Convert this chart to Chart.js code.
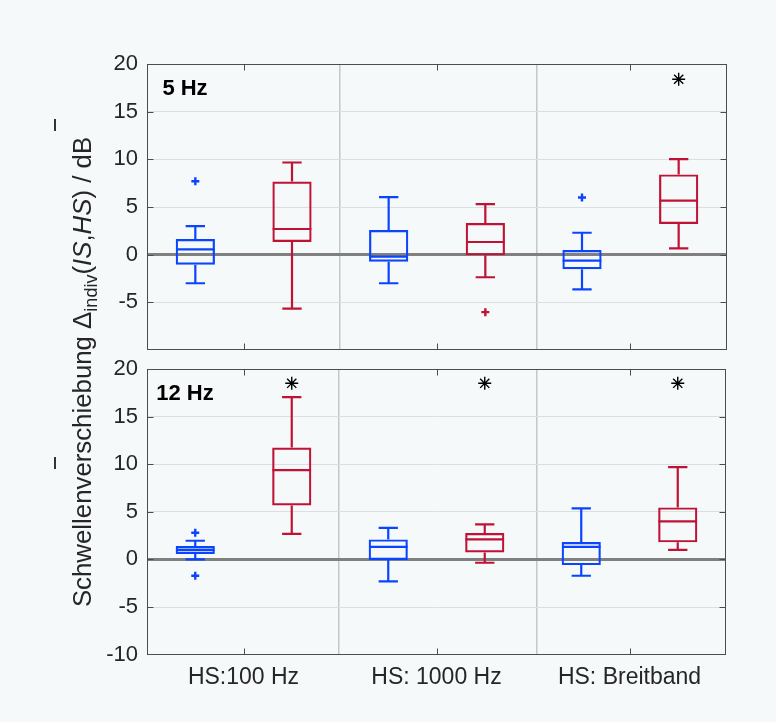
<!DOCTYPE html>
<html>
<head>
<meta charset="utf-8">
<script src="https://cdn.jsdelivr.net/npm/chart.js@4.4.1/dist/chart.umd.min.js"></script>
<style>
  html, body { margin: 0; padding: 0; background: #f5f9f9; }
  body { width: 776px; height: 722px; position: relative; overflow: hidden; font-family: "Liberation Sans", Arial, sans-serif; }
  canvas { position: absolute; left: 0; }
  #c1 { top: 0; }
  #c2 { top: 354px; }
  #ytitle { position: absolute; left: 83px; top: 372px; transform: translate(-50%, -50%) rotate(-90deg);
            white-space: nowrap; font-size: 25.8px; color: #262626; line-height: 1; }
  #ytitle sub { font-size: 0.7em; vertical-align: -0.3em; line-height: 0; }
  .bar { position: absolute; width: 1.6px; background: #333; }
</style>
</head>
<body>
<canvas id="c1" width="776" height="354"></canvas>
<canvas id="c2" width="776" height="368"></canvas>
<div id="ytitle">Schwellenverschiebung Δ<sub>indiv</sub>(<i>IS</i>,<i>HS</i>) / dB</div>
<div class="bar" style="left:54px; top:119px; height:12px;"></div>
<div class="bar" style="left:54px; top:457px; height:12px;"></div>
<script>
// ---------------- data ----------------
const categories = ['HS:100 Hz', 'HS: 1000 Hz', 'HS: Breitband'];
const yTickValues = [-10, -5, 0, 5, 10, 15, 20];
const separatorValues = [1.495, 2.517];   // vertical divider lines between groups
const panelLabels = ['5 Hz', '12 Hz'];

// five-number summaries per category: [lower whisker, Q1, median, Q3, upper whisker]
const blue5Hz  = [[-3.0, -1.05, 0.56, 1.64, 3.0], [-3.0, -0.73, -0.2, 2.59, 6.04], [-3.65, -1.53, -0.63, 0.49, 2.3]];
const red5Hz   = [[-5.65, 1.33, 2.69, 7.68, 9.67], [-2.37, -0.07, 1.33, 3.32, 5.31], [0.67, 3.21, 5.66, 8.42, 10.02]];
const blue5HzOutliers = [[7.7], [], [6.0]];
const red5HzOutliers  = [[], [-6.03], []];
const sig5Hz = [null, null, 18.4];

const blue12Hz = [[0.0, 0.56, 1.0, 1.4, 1.96], [-2.3, -0.07, 1.32, 2.1, 3.32], [-1.72, -0.6, 1.32, 1.82, 5.36]];
const red12Hz  = [[2.69, 5.67, 9.38, 11.76, 17.05], [-0.35, 0.73, 2.1, 2.76, 3.68], [1.0, 1.79, 3.99, 5.46, 9.7]];
const blue12HzOutliers = [[2.8, -1.72], [], []];
const red12HzOutliers  = [[], [], []];
const sig12Hz = [18.5, 18.5, 18.5];

// ---------------- styling / layout constants ----------------
const BLUE = '#0b44ff';
const RED = '#bf1236';
const GROUP_OFFSET = 0.25, BOX_HALF = 0.1, CAP_HALF = 0.05;
const FONT = '"Liberation Sans", Arial, sans-serif';
const TEXT = '#262626';
const LW = 2.2;

function whiskerPoints(series, offset) {
  const pts = [];
  const gap = (x) => pts.push({ x: x, y: null });
  series.forEach((s, i) => {
    const p = i + 1 + offset;
    const [lo, q1, med, q3, hi] = s;
    pts.push({ x: p, y: lo }, { x: p, y: q1 }); gap(p);
    pts.push({ x: p, y: q3 }, { x: p, y: hi }); gap(p);
    pts.push({ x: p - CAP_HALF, y: lo }, { x: p + CAP_HALF, y: lo }); gap(p);
    pts.push({ x: p - CAP_HALF, y: hi }, { x: p + CAP_HALF, y: hi }); gap(p);
    pts.push({ x: p - BOX_HALF, y: med }, { x: p + BOX_HALF, y: med }); gap(p);
  });
  return pts;
}
function outlierPoints(out, offset) {
  const pts = [];
  out.forEach((vals, i) => vals.forEach(v => pts.push({ x: i + 1 + offset, y: v })));
  return pts;
}
function sigPoints(sig, offset) {
  const pts = [];
  sig.forEach((v, i) => { if (v !== null) pts.push({ x: i + 1 + offset, y: v }); });
  return pts;
}

const framePlugin = {
  id: 'frame',
  afterDatasetsDraw(chart) {
    const { ctx, chartArea: a, scales: { x, y } } = chart;
    ctx.save();
    ctx.strokeStyle = '#4d4d4d';
    ctx.lineWidth = 1;
    const L = Math.round(a.left) + 0.5, R = Math.round(a.right) - 0.5;
    const T = Math.round(a.top) + 0.5, B = Math.round(a.bottom) - 0.5;
    ctx.strokeRect(L, T, R - L, B - T);
    ctx.beginPath();
    yTickValues.forEach(v => {
      if (v <= y.min || v >= y.max) return;
      const py = Math.round(y.getPixelForValue(v)) + 0.5;
      ctx.moveTo(L, py); ctx.lineTo(L + 6, py);
      ctx.moveTo(R, py); ctx.lineTo(R - 6, py);
    });
    categories.forEach((c, i) => {
      const px = Math.round(x.getPixelForValue(i + 1)) + 0.5;
      ctx.moveTo(px, B); ctx.lineTo(px, B - 6);
      ctx.moveTo(px, T); ctx.lineTo(px, T + 6);
    });
    ctx.stroke();
    const lbl = chart.options.plugins.frame && chart.options.plugins.frame.label;
    if (lbl) {
      ctx.fillStyle = '#000';
      ctx.font = 'bold 22px ' + FONT;
      ctx.textAlign = 'center';
      ctx.textBaseline = 'alphabetic';
      ctx.fillText(lbl, a.left + 38, a.top + 30.5);
    }
    ctx.restore();
  }
};

function makeChart(id, blue, red, blueOut, redOut, sig, label, isBottom, pad, xAxisHeight) {
  const bars = [];
  const barColors = [];
  categories.forEach((c, i) => {
    bars.push({ x: i + 1 - GROUP_OFFSET, y: [blue[i][1], blue[i][3]] });
    barColors.push(BLUE);
    bars.push({ x: i + 1 + GROUP_OFFSET, y: [red[i][1], red[i][3]] });
    barColors.push(RED);
  });
  const xTicks = [1, 2, 3].concat(separatorValues).sort((a, b) => a - b);
  return new Chart(document.getElementById(id), {
    type: 'bar',
    data: {
      datasets: [
        { type: 'bar', label: 'boxes', data: bars, borderColor: barColors, backgroundColor: 'rgba(0,0,0,0)',
          borderWidth: LW, borderSkipped: false, categoryPercentage: 1, barPercentage: 0.42, order: 5 },
        { type: 'line', label: 'blue whiskers', data: whiskerPoints(blue, -GROUP_OFFSET), borderColor: BLUE,
          borderWidth: LW, pointRadius: 0, spanGaps: false, tension: 0, fill: false, order: 4 },
        { type: 'line', label: 'red whiskers', data: whiskerPoints(red, GROUP_OFFSET), borderColor: RED,
          borderWidth: LW, pointRadius: 0, spanGaps: false, tension: 0, fill: false, order: 3 },
        { type: 'scatter', label: 'blue outliers', data: outlierPoints(blueOut, -GROUP_OFFSET), pointStyle: 'cross',
          pointRadius: 4, borderWidth: 2.4, borderColor: BLUE, backgroundColor: BLUE, order: 2 },
        { type: 'scatter', label: 'red outliers', data: outlierPoints(redOut, GROUP_OFFSET), pointStyle: 'cross',
          pointRadius: 4, borderWidth: 2.4, borderColor: RED, backgroundColor: RED, order: 2 },
        { type: 'scatter', label: 'significant', data: sigPoints(sig, GROUP_OFFSET), pointStyle: 'star',
          pointRadius: 6.5, borderWidth: 1.4, borderColor: '#000', backgroundColor: '#000', order: 1 }
      ]
    },
    options: {
      responsive: false,
      animation: false,
      events: [],
      layout: { padding: pad, autoPadding: false },
      plugins: { legend: { display: false }, tooltip: { enabled: false }, frame: { label: label } },
      scales: {
        x: {
          type: 'linear', min: 0.5, max: 3.5, offset: false,
          afterBuildTicks: (s) => { s.ticks = xTicks.map(v => ({ value: v })); },
          afterFit: (s) => { s.height = xAxisHeight; s.paddingLeft = 0; s.paddingRight = 0; },
          grid: { offset: false, drawTicks: false, lineWidth: 1.5,
                  color: (c) => (c.tick && !Number.isInteger(c.tick.value)) ? '#c5c7c8' : 'rgba(0,0,0,0)' },
          border: { display: false },
          ticks: {
            display: isBottom, padding: 9, maxRotation: 0, autoSkip: false,
            font: { family: FONT, size: 23 }, color: TEXT,
            callback: (v) => (Number.isInteger(v) ? categories[v - 1] : '')
          }
        },
        y: {
          type: 'linear', min: -10, max: 20,
          afterBuildTicks: (s) => { s.ticks = yTickValues.map(v => ({ value: v })); },
          afterFit: (s) => { s.width = 147; s.paddingTop = 0; s.paddingBottom = 0; },
          grid: { drawTicks: false,
                  color: (c) => c.tick.value === 0 ? '#808080' : ((c.tick.value === 20 || c.tick.value === -10) ? 'rgba(0,0,0,0)' : '#dcdedf'),
                  lineWidth: (c) => c.tick.value === 0 ? 3 : 1 },
          border: { display: false },
          ticks: {
            padding: 9, font: { family: FONT, size: 22 }, color: TEXT,
            callback: (v) => (!isBottom && v === -10) ? null : String(v)
          }
        }
      }
    },
    plugins: [framePlugin]
  });
}

makeChart('c1', blue5Hz, red5Hz, blue5HzOutliers, red5HzOutliers, sig5Hz, panelLabels[0], false,
          { top: 64, right: 49, left: 0, bottom: 0 }, 4);
makeChart('c2', blue12Hz, red12Hz, blue12HzOutliers, red12HzOutliers, sig12Hz, panelLabels[1], true,
          { top: 15, right: 50, left: 0, bottom: 0 }, 67.4);
</script>
</body>
</html>
